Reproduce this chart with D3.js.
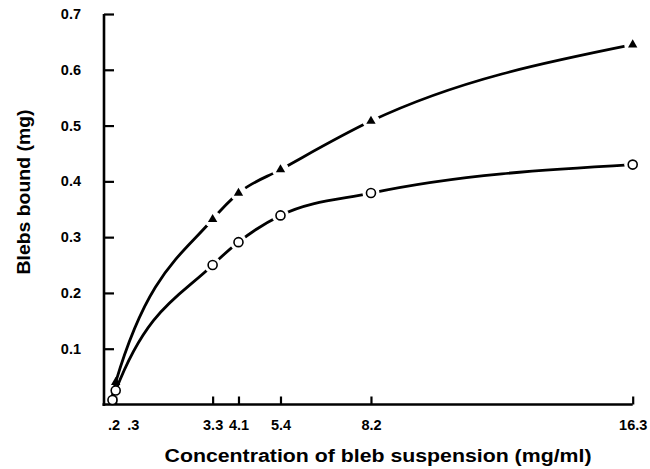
<!DOCTYPE html>
<html>
<head>
<meta charset="utf-8">
<script src="https://cdn.jsdelivr.net/npm/d3@7"></script>
<style>
  body { margin: 0; background: #fff; }
  svg text { font-family: "Liberation Sans", Arial, sans-serif; fill: #000; }
</style>
</head>
<body>
<div id="chart"></div>
<script>
// concentrations (mg/ml)
const conc = [0.2, 0.3, 3.3, 4.1, 5.4, 8.2, 16.3];
// blebs bound (mg)
const triangleVals = [0.012, 0.04, 0.332, 0.379, 0.421, 0.508, 0.645];
const circleVals   = [0.008, 0.025, 0.25, 0.291, 0.339, 0.379, 0.430];
const xTickLabels = [".2", ".3", "3.3", "4.1", "5.4", "8.2", "16.3"];
const yTicks = [0.1, 0.2, 0.3, 0.4, 0.5, 0.6, 0.7];

const width = 650, height = 469;
const svg = d3.select("#chart").append("svg")
    .attr("width", width)
    .attr("height", height);

const x = d3.scaleLinear().domain([0, 16.3]).range([106, 632.7]);
const y = d3.scaleLinear().domain([0, 0.7]).range([404.5, 14]);

// y axis, ticks point inward
const yAxis = svg.append("g")
    .attr("transform", "translate(104,0)")
    .call(d3.axisRight(y).tickValues(yTicks).tickSize(10).tickFormat(d3.format(".1f")));
yAxis.select(".domain").attr("d", "M0," + y(0.7) + "V" + (y(0) + 1.5));
yAxis.selectAll(".tick line").attr("stroke-width", 2.2);
yAxis.selectAll(".tick text")
    .attr("x", -23).attr("text-anchor", "end")
    .style("font-size", "14.5px").style("font-weight", "bold");

// x axis, ticks point up
const xAxis = svg.append("g")
    .attr("transform", "translate(0," + y(0) + ")")
    .call(d3.axisTop(x).tickValues(conc).tickSize(8).tickFormat((d, i) => xTickLabels[i]));
xAxis.select(".domain").attr("d", "M102.5,0H" + x(16.3));
xAxis.selectAll(".tick line").attr("stroke-width", 2.2);
xAxis.selectAll(".tick text")
    .attr("y", 25).attr("dy", 0)
    .attr("dx", (d, i) => i === 0 ? 1 : i === 1 ? 17 : 0)
    .style("font-size", "14.5px").style("font-weight", "bold");
svg.selectAll(".domain").attr("stroke-width", 2.6);

// the two curves
const line = d3.line()
    .x(d => x(d[0]))
    .y(d => y(d[1]))
    .curve(d3.curveMonotoneX);

const triData = conc.map((c, i) => [c, triangleVals[i]]);
const circData = conc.map((c, i) => [c, circleVals[i]]);

[triData, circData].forEach(data => {
    svg.append("path")
        .datum(data)
        .attr("fill", "none")
        .attr("stroke", "#000")
        .attr("stroke-width", 2.8)
        .attr("d", line);
});

// white gaps around markers
[triData, circData].forEach(data => {
    svg.selectAll(null).data(data.slice(2)).enter().append("circle")
        .attr("cx", d => x(d[0]))
        .attr("cy", d => y(d[1]))
        .attr("r", 8.5)
        .attr("fill", "#fff");
});

svg.selectAll(".tri").data(triData).enter().append("path")
    .attr("class", "tri")
    .attr("transform", d => "translate(" + x(d[0]) + "," + y(d[1]) + ")")
    .attr("d", d3.symbol().type(d3.symbolTriangle).size(38))
    .attr("fill", "#000");

svg.selectAll(".circ").data(circData).enter().append("circle")
    .attr("class", "circ")
    .attr("cx", d => x(d[0]))
    .attr("cy", d => y(d[1]))
    .attr("r", 4.5)
    .attr("fill", "#fff")
    .attr("stroke", "#000")
    .attr("stroke-width", 1.6);

// axis titles
svg.append("text")
    .attr("x", 378).attr("y", 462)
    .attr("text-anchor", "middle")
    .attr("textLength", 427).attr("lengthAdjust", "spacingAndGlyphs")
    .style("font-size", "17.5px").style("font-weight", "bold")
    .text("Concentration of bleb suspension (mg/ml)");

svg.append("text")
    .attr("transform", "translate(30,192) rotate(-90)")
    .attr("text-anchor", "middle")
    .attr("textLength", 165).attr("lengthAdjust", "spacingAndGlyphs")
    .style("font-size", "17.5px").style("font-weight", "bold")
    .text("Blebs bound (mg)");
</script>
</body>
</html>
